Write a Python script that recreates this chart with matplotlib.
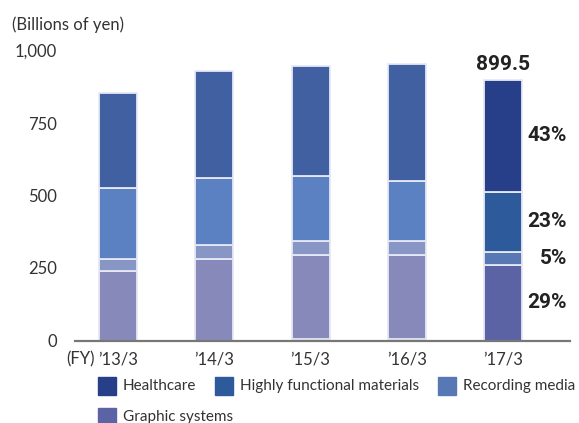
import numpy as np
import matplotlib
matplotlib.use("Agg")
import matplotlib.pyplot as plt
from matplotlib.patches import Rectangle

# Segment sales by fiscal year (billions of yen)
years = ["\u201913/3", "\u201914/3", "\u201915/3", "\u201916/3", "\u201917/3"]
others = [0, 0, 4, 4, 0]
graphic = [240, 282, 290, 291, 261]
recording = [42, 48, 49, 48, 45]
materials = [244, 230, 224, 207, 207]
healthcare = [326, 369, 380, 403, 386.5]
total_label = "899.5"
shares = ["29%", "5%", "23%", "43%"]

# older years drawn in softer tones, latest year in the legend tones
old_cols = ["#8889bb", "#8896c5", "#5b81c3", "#4060a2"]
new_cols = ["#5b63a5", "#5877b5", "#2c5a9b", "#273e88"]
legend_names = ["Healthcare", "Highly functional materials", "Recording media", "Graphic systems"]
legend_cols = ["#273e88", "#2c5a9b", "#5877b5", "#5b63a5"]

plt.rcParams["font.family"] = ["Lato", "DejaVu Sans"]
txt = "#333333"
bold_font = ["Roboto", "DejaVu Sans"]

fig = plt.figure(figsize=(5.79, 4.23), dpi=100)
W, H = 579, 423
ax = fig.add_axes([75 / W, (H - 340.5) / H, (570 - 75) / W, 290 / H])

x = np.arange(len(years))
bw = 0.395
series = [graphic, recording, materials, healthcare]
edge = "#e6e9f5"

bottom = np.array(others, dtype=float)
ax.bar(x, others, bw, color="#9cc7a4", edgecolor="none")
for k, vals in enumerate(series):
    cols = [old_cols[k]] * 4 + [new_cols[k]]
    ax.bar(x, vals, bw, bottom=bottom, color=cols, edgecolor=edge, linewidth=1.3)
    bottom = bottom + np.array(vals, dtype=float)

# total and shares for the latest year
ax.text(x[-1], bottom[-1] + 20, total_label, ha="center", va="bottom",
        fontsize=15, fontweight="bold", color="#222222", family=bold_font)
base = 0.0
for k, vals in enumerate(series):
    mid = base + vals[-1] / 2
    base += vals[-1]
    ax.text(x[-1] + 0.665, mid, shares[k], ha="right", va="center",
            fontsize=15, fontweight="bold", color="#222222", family=bold_font)

ax.set_xlim(-0.447, 4.696)
ax.set_ylim(0, 1000)
ax.set_yticks([0, 250, 500, 750, 1000])
ax.set_yticklabels(["0", "250", "500", "750", "1,000"])
ax.set_xticks(x)
ax.set_xticklabels(years)
ax.tick_params(axis="both", length=0, labelsize=12, colors=txt)
ax.tick_params(axis="y", pad=13)
ax.tick_params(axis="x", pad=8)
for s in ["top", "right", "left"]:
    ax.spines[s].set_visible(False)
ax.spines["bottom"].set_color("#777777")
ax.spines["bottom"].set_linewidth(1.6)

fig.text(12 / W, 1 - 25 / H, "(Billions of yen)", ha="left", va="center",
         fontsize=12, color=txt)
fig.text(66 / W, 1 - 359 / H, "(FY)", ha="left", va="center", fontsize=12, color=txt)

# legend drawn by hand in pixel positions
spots = [(98, 386), (215, 386), (438, 386), (98, 417)]
for (px, py), name, col in zip(spots, legend_names, legend_cols):
    fig.patches.append(Rectangle((px / W, 1 - (py + 9) / H), 18 / W, 18 / H,
                                 transform=fig.transFigure, color=col))
    fig.text((px + 25) / W, 1 - py / H, name, ha="left", va="center",
             fontsize=11, color=txt)

fig.savefig("out.png", dpi=100)
